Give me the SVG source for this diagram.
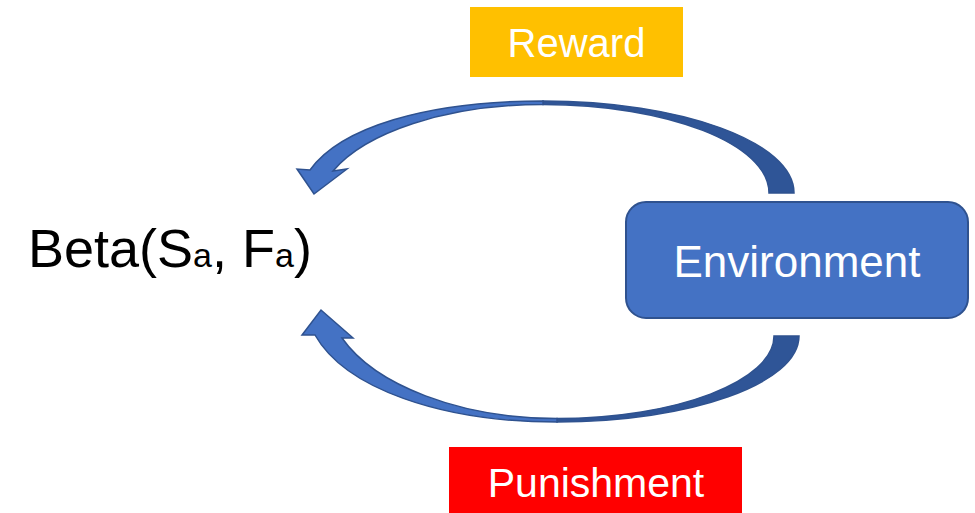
<svg xmlns="http://www.w3.org/2000/svg" width="975" height="513" viewBox="0 0 975 513">
  <style>
    .lbl { font-family: "Liberation Sans", Arial, sans-serif; }
    .light { fill: #4472C4; stroke: #2F528F; stroke-width: 1.5; stroke-linejoin: miter; }
    .dark { fill: #2F5597; stroke: #2F528F; stroke-width: 1.5; }
  </style>
  <rect width="975" height="513" fill="#FFFFFF"/>

  <!-- curved feedback arrows -->
  <g id="connectors">
    <!-- upper arrow: from Environment back to the Beta model (reward path) -->
    <g id="arrow-reward">
      <path class="dark" d="M794,193 C794,142 681.6,101 543,101 L543,104.5 C667.8,104.5 769,144 769,193 Z"/>
      <path class="light" d="M543,101 C425,101 340,128 310,170 L297,169 L314,194 L347,169 L333,171 C365,133 445,104.5 543,104.5 Z"/>
    </g>
    <!-- lower arrow: from Environment back to the Beta model (punishment path) -->
    <g id="arrow-punishment">
      <path class="dark" d="M799,336 C799,383.5 690.7,422 557,422 L557,418.5 C676.8,418.5 774,381 774,336 Z"/>
      <path class="light" d="M557,422 C440,422 345,388 315,335 L302,335 L321,310 L353,338 L342,338 C375,385 460,418.5 557,418.5 Z"/>
    </g>
  </g>

  <!-- Beta model label -->
  <g id="beta">
    <text class="lbl" x="28" y="267" font-size="54" fill="#000000">Beta(S<tspan font-size="34">a</tspan>, F<tspan font-size="34">a</tspan>)</text>
  </g>

  <!-- Environment node -->
  <g id="environment">
    <rect x="626" y="202" width="342" height="116" rx="20" ry="20" fill="#4472C4" stroke="#2F528F" stroke-width="2"/>
    <text class="lbl" x="797" y="277" font-size="44" fill="#FFFFFF" text-anchor="middle">Environment</text>
  </g>

  <!-- Reward label -->
  <g id="reward">
    <rect x="470" y="7" width="213" height="70" fill="#FFC000"/>
    <text class="lbl" x="576.5" y="57" font-size="40" fill="#FFFFFF" text-anchor="middle">Reward</text>
  </g>

  <!-- Punishment label -->
  <g id="punishment">
    <rect x="449" y="447" width="293" height="66" fill="#FF0000"/>
    <text class="lbl" x="596" y="497" font-size="41" fill="#FFFFFF" text-anchor="middle">Punishment</text>
  </g>
</svg>
